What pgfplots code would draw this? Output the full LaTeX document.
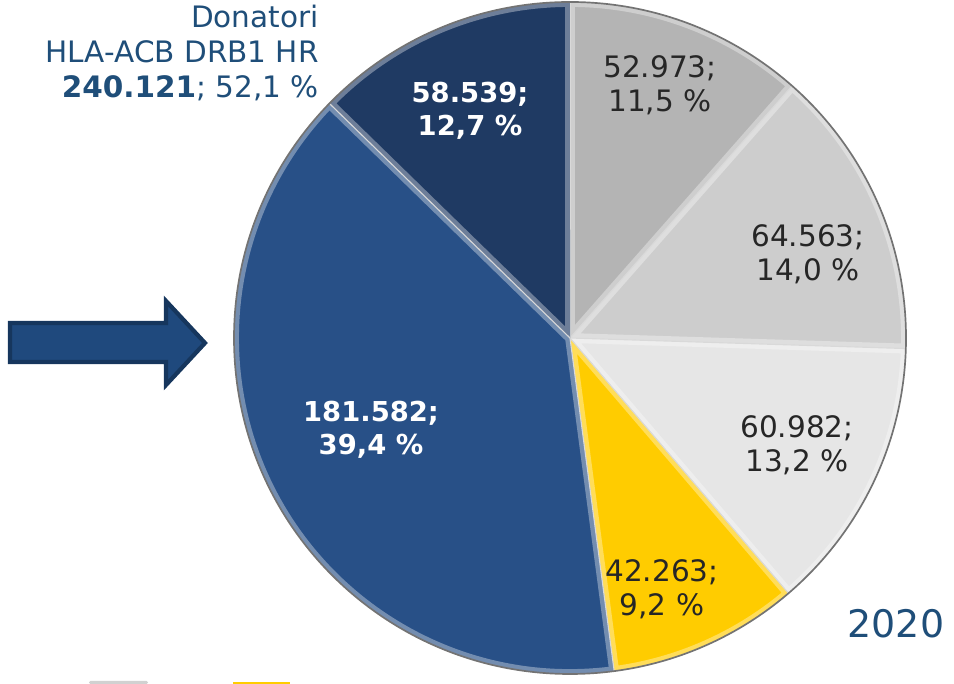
\documentclass[border=0pt]{standalone}
\usepackage{pgfplots}
\pgfplotsset{compat=1.18}
\usepackage{pgfplotstable}
\usepackage{fontspec}
\setmainfont{DejaVu Sans}

\definecolor{sgray}{RGB}{180,180,180}
\definecolor{lgray}{RGB}{205,205,205}
\definecolor{vlgray}{RGB}{230,230,230}
\definecolor{pyellow}{RGB}{255,204,0}
\definecolor{pblue}{RGB}{40,80,135}
\definecolor{pnavy}{RGB}{31,58,99}
\definecolor{txtblue}{RGB}{31,78,121}
\definecolor{arrfill}{RGB}{31,73,125}
\definecolor{arrline}{RGB}{22,54,93}
\definecolor{lbldark}{RGB}{38,38,38}

% donors in thousands, clockwise from 12 o'clock
\pgfplotstableread{
value col
52.973 sgray
64.563 lgray
60.982 vlgray
42.263 pyellow
181.582 pblue
58.539 pnavy
}\piedata

\begin{document}
\begin{tikzpicture}
\begin{axis}[
  name=pie,
  width=23.85cm, height=17.1cm, scale only axis,
  xmin=0, xmax=954, ymin=0, ymax=684,
  hide axis, clip=false,
]
\pgfplotsextra{
  \pgfplotstablegetrowsof{\piedata}
  \pgfmathtruncatemacro{\nrows}{\pgfplotsretval-1}
  \gdef\total{0}
  \foreach \i in {0,...,\nrows}{
    \pgfplotstablegetelem{\i}{value}\of\piedata
    \pgfmathsetmacro{\tmp}{\total+\pgfplotsretval}
    \xdef\total{\tmp}
  }
  \gdef\cumang{90}
  \foreach \i in {0,...,\nrows}{
    \pgfplotstablegetelem{\i}{value}\of\piedata \let\val\pgfplotsretval
    \pgfplotstablegetelem{\i}{col}\of\piedata \let\col\pgfplotsretval
    \pgfmathsetmacro{\endang}{\cumang-360*(\val/\total)}
    \fill[\col] (axis cs:570,346) -- ++(\cumang:8.4cm)
      arc[start angle=\cumang, end angle=\endang, radius=8.4cm] -- cycle;
    \begin{scope}
      \clip (axis cs:570,346) -- ++(\cumang:8.4cm)
        arc[start angle=\cumang, end angle=\endang, radius=8.4cm] -- cycle;
      \draw[white, opacity=0.35, line width=7pt] (axis cs:570,346) -- ++(\cumang:8.4cm)
        arc[start angle=\cumang, end angle=\endang, radius=8.4cm] -- cycle;
    \end{scope}
    \draw[white!85!black, line width=0.8pt] (axis cs:570,346) -- ++(\cumang:8.4cm);
    \xdef\cumang{\endang}
  }
  \draw[black!55, line width=1.2pt] (axis cs:570,346) circle[radius=8.4cm];
}

% slice labels
\node[align=center, text=white, font=\fontsize{19.5}{23.4}\selectfont\bfseries] at (axis cs:470,573) {58.539;\\12,7 \%};
\node[align=center, text=white, font=\fontsize{19.5}{23.4}\selectfont\bfseries] at (axis cs:371,254) {181.582;\\39,4 \%};
\node[align=center, text=lbldark, font=\fontsize{21}{24.5}\selectfont] at (axis cs:660,599) {52.973;\\11,5 \%};
\node[align=center, text=lbldark, font=\fontsize{21}{24.5}\selectfont] at (axis cs:808,430) {64.563;\\14,0 \%};
\node[align=center, text=lbldark, font=\fontsize{21}{24.5}\selectfont] at (axis cs:797,239) {60.982;\\13,2 \%};
\node[align=center, text=lbldark, font=\fontsize{21}{24.5}\selectfont] at (axis cs:662,95) {42.263;\\9,2 \%};

% group label
\node[align=right, anchor=east, text=txtblue, font=\fontsize{21}{24.8}\selectfont, inner sep=0pt] at (axis cs:319,631)
  {Donatori\\HLA-ACB DRB1 HR\\\textbf{240.121}; 52,1 \%};
\node[text=txtblue, font=\fontsize{27}{30}\selectfont] at (axis cs:896,60) {2020};

% block arrow
\draw[fill=arrfill, draw=arrline, line width=3pt, line join=miter]
  (axis cs:10,361) -- (axis cs:166,361) -- (axis cs:166,383) -- (axis cs:205,341)
  -- (axis cs:166,299) -- (axis cs:166,322) -- (axis cs:10,322) -- cycle;

% clipped legend stubs at the bottom edge
\fill[black!18, rounded corners=1pt] (axis cs:89,0) rectangle (axis cs:148,3);
\fill[pyellow] (axis cs:233,0) rectangle (axis cs:290,1.5);
\end{axis}
\pgfresetboundingbox
\path (pie.south west) rectangle (pie.north east);
\end{tikzpicture}
\end{document}
